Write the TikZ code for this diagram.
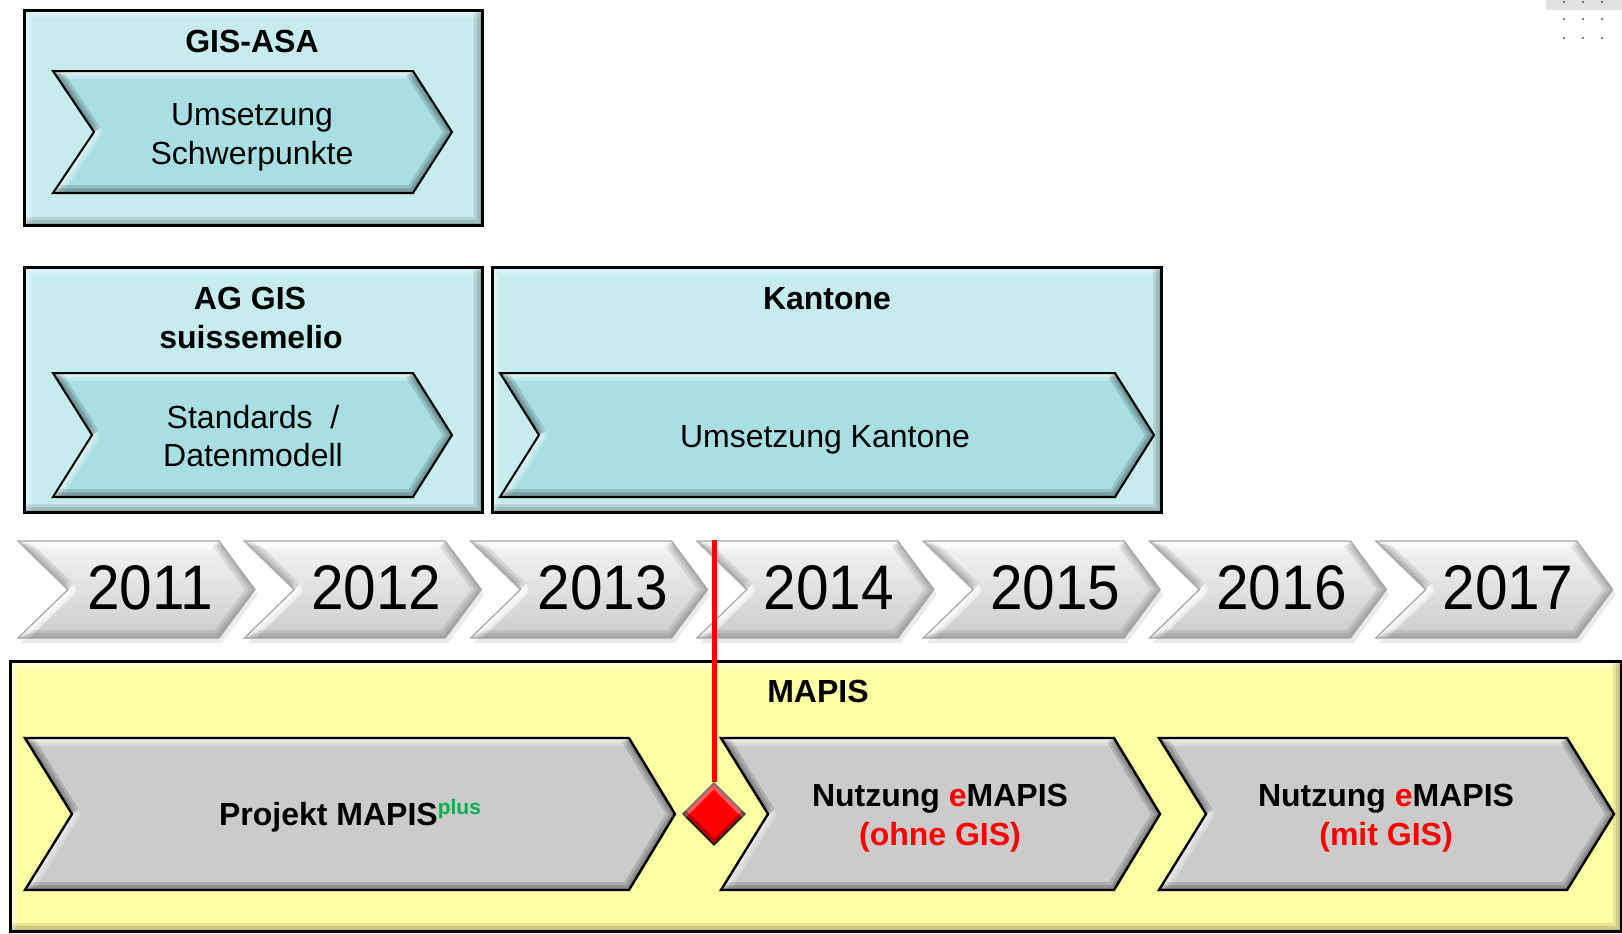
\documentclass[tikz,border=0pt]{standalone}
\usepackage{fontspec}
\setmainfont{Liberation Sans}
\usetikzlibrary{shapes.geometric}
\definecolor{cyanbox}{HTML}{C6ECEE}
\definecolor{cyanchev}{HTML}{A9DFE2}
\definecolor{yelbox}{HTML}{FFFFA6}
\definecolor{graychev}{HTML}{CBCBCB}
\definecolor{pgreen}{HTML}{00B050}
\definecolor{mred}{HTML}{FF0000}
\definecolor{dotgray}{HTML}{555555}
\definecolor{uigray}{HTML}{E2E2E2}

\tikzset{
  lightedge/.style={white,opacity=.28},
  darkedge/.style={black,opacity=.14},
  lbl/.style={font=\fontsize{16}{19}\selectfont,inner sep=0pt,anchor=base},
  blbl/.style={font=\fontsize{16}{19}\selectfont\bfseries,inner sep=0pt,anchor=base},
  yrlbl/.style={font=\fontsize{31.5}{36}\selectfont,inner sep=0pt,anchor=base},
  redline/.style={draw=mred,line width=2.5pt},
}

% chevron: #1 left x, #2 tip x, #3 top y, #4 bottom y, #5 notch depth, #6 tip depth, #7 fill options, #8 outline options
\newcommand{\chev}[8]{%
  \pgfmathsetmacro\cM{(#3+#4)/2}%
  \pgfmathsetmacro\cA{#2-#6}%
  \pgfmathsetmacro\cN{#1+#5}%
  \path[#7] (#1,#3) -- (\cA,#3) -- (#2,\cM) -- (\cA,#4) -- (#1,#4) -- (\cN,\cM) -- cycle;
  \begin{scope}
    \clip (#1,#3) -- (\cA,#3) -- (#2,\cM) -- (\cA,#4) -- (#1,#4) -- (\cN,\cM) -- cycle;
    \foreach \w in {8,5,2.5}{
      \draw[lightedge,line width=\w pt,line cap=round] (#1,#3) -- (\cA,#3);
      \draw[lightedge,line width=\w pt,line cap=round] (\cN,\cM) -- (#1,#4);
      \draw[darkedge,line width=\w pt,line join=miter] (#1,#3) -- (\cN,\cM);
      \draw[darkedge,line width=\w pt,line join=miter] (\cA,#3) -- (#2,\cM) -- (\cA,#4) -- (#1,#4);
    }
  \end{scope}
  \path[#8] (#1,#3) -- (\cA,#3) -- (#2,\cM) -- (\cA,#4) -- (#1,#4) -- (\cN,\cM) -- cycle;
}

% bevelled box: #1 x1, #2 y1, #3 x2, #4 y2, #5 fill colour
\newcommand{\bevbox}[5]{%
  \fill[#5] (#1,#2) rectangle (#3,#4);
  \begin{scope}
    \clip (#1,#2) rectangle (#3,#4);
    \foreach \w in {8,5,2.5}{
      \draw[white,opacity=.22,line width=\w pt] (#1,#4) -- (#1,#2) -- (#3,#2);
      \draw[black,opacity=.10,line width=\w pt] (#3,#2) -- (#3,#4) -- (#1,#4);
    }
  \end{scope}
  \draw[line width=1.5pt] (#1,#2) rectangle (#3,#4);
}

\begin{document}
\begin{tikzpicture}[x=0.5pt,y=-0.5pt]
\useasboundingbox (0,0) rectangle (1622,933);
\fill[white] (0,0) rectangle (1622,933);

% ---------- top-right UI remnant ----------
\fill[uigray] (1546,0) rectangle (1622,10);
\foreach \dx in {1564,1583,1602}{
  \foreach \dy in {2,19,38}{
    \fill[dotgray] (\dx,\dy) circle (1.2);
  }
}

% ---------- GIS-ASA ----------
\bevbox{24}{10}{482}{225}{cyanbox}
\chev{53}{452}{71}{193}{41}{39}{fill=cyanchev}{draw=black,line width=1pt}
\node[blbl] (gisasa) at (252,52) {GIS-ASA};
\node[lbl] (ums1) at (252,125) {Umsetzung};
\node[lbl] (ums2) at (252,164) {Schwerpunkte};

% ---------- AG GIS ----------
\bevbox{24}{267}{482}{512}{cyanbox}
\chev{53}{452}{373}{497}{39}{39}{fill=cyanchev}{draw=black,line width=1pt}
\node[blbl] (aggis1) at (250,309) {AG GIS};
\node[blbl] (aggis2) at (251,348) {suissemelio};
\node[lbl] (std1) at (253,428) {Standards\ \ /};
\node[lbl] (std2) at (253,466) {Datenmodell};

% ---------- Kantone ----------
\bevbox{492}{267}{1161}{512}{cyanbox}
\chev{500}{1154}{373}{497}{39}{39}{fill=cyanchev}{draw=black,line width=1pt}
\node[blbl] (kant) at (827,309) {Kantone};
\node[lbl] (umskant) at (825,447) {Umsetzung Kantone};

% ---------- year chevrons ----------
\begin{scope}[lightedge/.style={white,opacity=.55},darkedge/.style={black!60,opacity=.16}]
\foreach \i/\yr in {0/2011,1/2012,2/2013,3/2014,4/2015,5/2016,6/2017}{
  \pgfmathsetmacro\L{18+226.3*\i}
  \pgfmathsetmacro\R{\L+237}
  \begin{scope}[shift={(3,5)}]
    \fill[black,opacity=.08] (\L,541) -- (\R-36,541) -- (\R,589.5) -- (\R-36,638) -- (\L,638) -- (\L+50,589.5) -- cycle;
  \end{scope}
  \chev{\L}{\R}{541}{638}{50}{36}{top color=white!96!black,bottom color=white!80!black}{draw=black!35,line width=0.6pt}
  \pgfmathsetmacro\tx{150+226.3*\i}
  \node[yrlbl] (y\yr) at (\tx,609) {\scalebox{0.93}[1]{\yr}};
}
\end{scope}

% ---------- MAPIS ----------
\bevbox{10}{661}{1621}{931}{yelbox}
\node[blbl] (mapis) at (818,702) {MAPIS};
\chev{25}{675}{738}{890}{47}{46}{fill=graychev}{draw=black,line width=1.2pt}
\chev{721}{1160}{738}{890}{47}{46}{fill=graychev}{draw=black,line width=1.2pt}
\chev{1159}{1614}{738}{890}{47}{47}{fill=graychev}{draw=black,line width=1.2pt}
\node[blbl] (proj) at (350,825) {Projekt MAPIS\raisebox{5.5pt}{\fontsize{10.5}{12}\selectfont\color{pgreen}plus}};
\node[blbl] (nutz1a) at (940,806) {Nutzung \textcolor{mred}{e}MAPIS};
\node[blbl,text=mred] (nutz1b) at (940,845) {(ohne GIS)};
\node[blbl] (nutz2a) at (1386,806) {Nutzung \textcolor{mred}{e}MAPIS};
\node[blbl,text=mred] (nutz2b) at (1386,845) {(mit GIS)};

% ---------- milestone ----------
\node[diamond,fill=mred,draw=black!85,line width=0.8pt,minimum width=31pt,minimum height=31pt,inner sep=0pt] (ms) at (714,814) {};
\begin{scope}
  \clip (ms.north) -- (ms.east) -- (ms.south) -- (ms.west) -- cycle;
  \draw[white,opacity=.35,line width=5pt] (ms.west) -- (ms.north) -- (ms.east);
  \draw[black,opacity=.3,line width=5pt] (ms.east) -- (ms.south) -- (ms.west);
\end{scope}
\coordinate (rtop) at (714,540);
\draw[redline] (rtop) -- (ms.north);
\end{tikzpicture}
\end{document}
